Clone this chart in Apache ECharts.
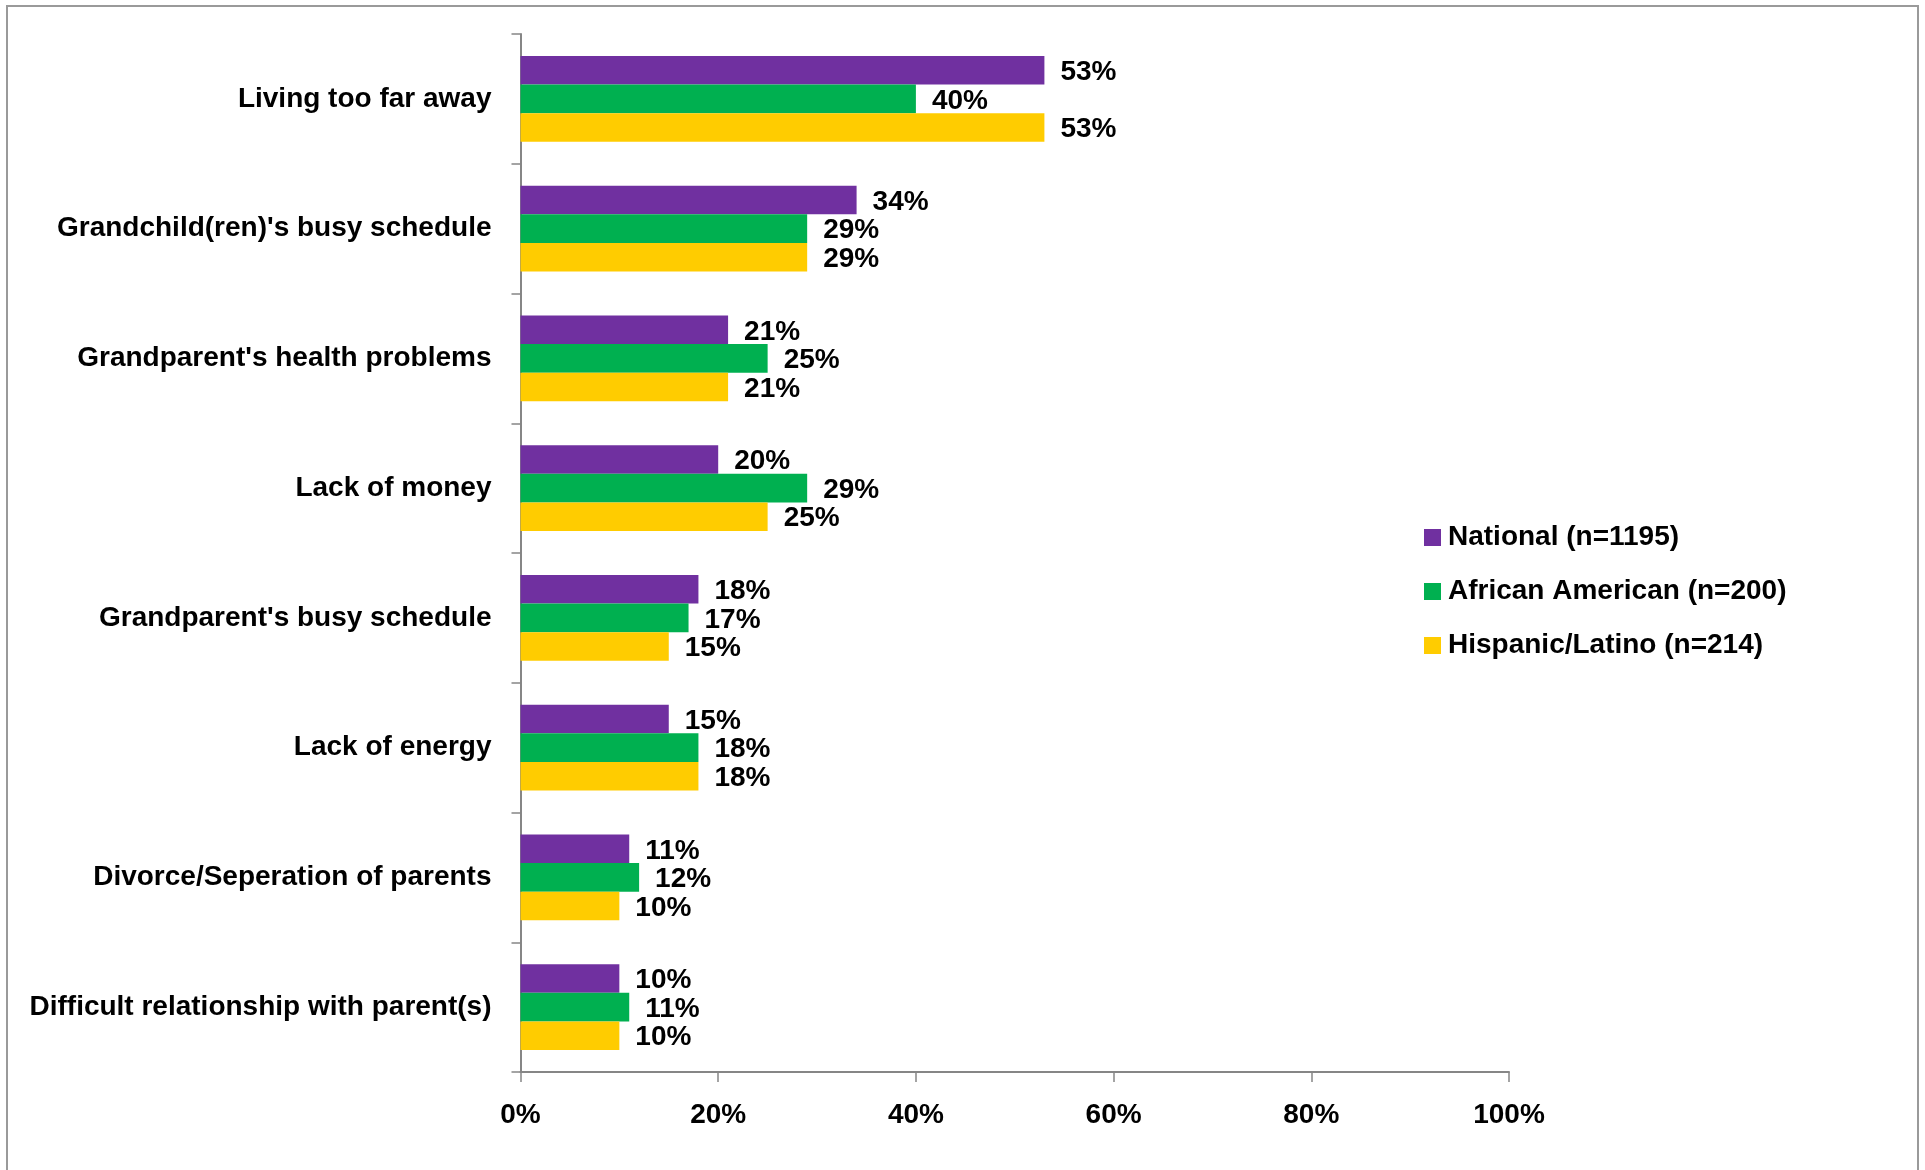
<!DOCTYPE html>
<html>
<head>
<meta charset="utf-8">
<script src="https://cdn.jsdelivr.net/npm/echarts@6/dist/echarts.min.js"></script>
<style>
html,body{margin:0;padding:0;background:#fff;}
#chart{width:1925px;height:1170px;}
</style>
</head>
<body>
<div id="chart"></div>
<script>
const categories = [
  "Living too far away",
  "Grandchild(ren)'s busy schedule",
  "Grandparent's health problems",
  "Lack of money",
  "Grandparent's busy schedule",
  "Lack of energy",
  "Divorce/Seperation of parents",
  "Difficult relationship with parent(s)"
];
const seriesNames = ["National (n=1195)", "African American (n=200)", "Hispanic/Latino (n=214)"];
const national = [53, 34, 21, 20, 18, 15, 11, 10];
const africanAmerican = [40, 29, 25, 29, 17, 18, 12, 11];
const hispanicLatino = [53, 29, 21, 25, 15, 18, 10, 10];
const xTicks = [0, 20, 40, 60, 80, 100];

const colors = ["#7030A0", "#00B050", "#FFCC00"];
const FONT = "'Liberation Sans', Arial, sans-serif";
const FS = 28;
const values = [national, africanAmerican, hispanicLatino];

const chart = echarts.init(document.getElementById('chart'), null, {renderer: 'canvas'});
chart.setOption({
  animation: false,
  backgroundColor: '#fff',
  graphic: [{
    type: 'rect',
    shape: {x: 7, y: 6, width: 1911, height: 1220},
    style: {fill: 'none', stroke: '#9a9a9a', lineWidth: 2},
    silent: true
  }],
  grid: {left: 520.5, right: 416, top: 34, bottom: 98, containLabel: false},
  legend: {
    orient: 'vertical',
    left: 1424,
    top: 523,
    padding: 0,
    itemWidth: 17,
    itemHeight: 17,
    itemGap: 25,
    icon: 'rect',
    data: seriesNames,
    textStyle: {fontFamily: FONT, fontWeight: 'bold', fontSize: FS, color: '#000', lineHeight: 26, padding: [3, 0, 0, 2]}
  },
  xAxis: {
    type: 'value',
    min: xTicks[0],
    max: xTicks[xTicks.length - 1],
    interval: 20,
    splitLine: {show: false},
    axisLine: {show: true, lineStyle: {color: '#868686', width: 2}},
    axisTick: {show: true, length: 10, lineStyle: {color: '#868686', width: 1.5}},
    axisLabel: {
      formatter: '{value}%', margin: 29,
      fontFamily: FONT, fontWeight: 'bold', fontSize: FS, color: '#000'
    }
  },
  yAxis: {
    type: 'category',
    data: categories,
    inverse: true,
    axisLine: {show: true, lineStyle: {color: '#868686', width: 2}},
    axisTick: {show: true, length: 9, lineStyle: {color: '#868686', width: 1.5}},
    axisLabel: {
      margin: 29, fontFamily: FONT, fontWeight: 'bold', fontSize: FS, color: '#000',
      padding: [5, 0, 0, 0]
    }
  },
  series: seriesNames.map((name, i) => ({
    name: name,
    type: 'bar',
    data: values[i],
    barGap: '0%',
    barCategoryGap: '34%',
    itemStyle: {color: colors[i]},
    label: {
      show: true, position: 'right', distance: 16,
      offset: [0, 2],
      formatter: '{c}%',
      fontFamily: FONT, fontWeight: 'bold', fontSize: FS, color: '#000'
    }
  }))
});
</script>
</body>
</html>
